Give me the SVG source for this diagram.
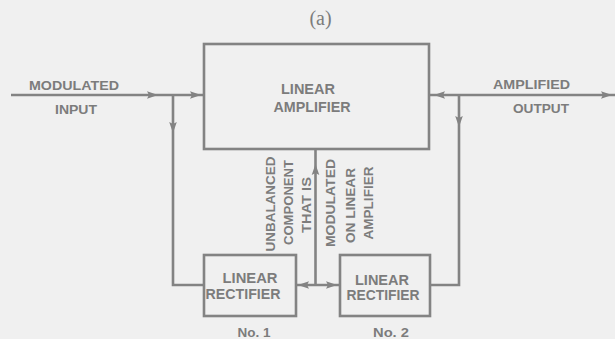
<svg xmlns="http://www.w3.org/2000/svg" width="615" height="339" viewBox="0 0 615 339">
<defs>
<style>
.ln{fill:none;stroke:#838383;stroke-width:2.6}
.bx{fill:none;stroke:#838383;stroke-width:2.6}
.t{font-family:"Liberation Sans",Arial,sans-serif;font-weight:bold;font-size:13px;fill:#7c7c7c;text-anchor:middle}
.big{font-size:14px}
.ttl{font-family:"Liberation Serif","Times New Roman",serif;font-size:20px;fill:#7c7c7c;text-anchor:middle}
</style>
<path id="ah" d="M0,0 L-11,-3.8 L-9,0 L-11,3.8 Z" fill="#838383"/>
</defs>
<rect width="615" height="339" fill="#f0f0f0"/>
<text class="ttl" x="320.5" y="25">(a)</text>
<g id="connectors">
<path class="ln" d="M11,95 H203"/>
<path class="ln" d="M173,95 V285 H204"/>
<path class="ln" d="M429,95 H615"/>
<path class="ln" d="M459,95 V285 H430"/>
<path class="ln" d="M296,285 H340"/>
<path class="ln" d="M315.5,149 V285"/>
<use href="#ah" transform="translate(158,95)"/>
<use href="#ah" transform="translate(201,95)"/>
<use href="#ah" transform="translate(173,133) rotate(90)"/>
<use href="#ah" transform="translate(434,95) rotate(180)"/>
<use href="#ah" transform="translate(612,95)"/>
<use href="#ah" transform="translate(459,127) rotate(90)"/>
<use href="#ah" transform="translate(315.5,164) rotate(-90)"/>
<use href="#ah" transform="translate(298,285) rotate(180)"/>
<use href="#ah" transform="translate(337,285)"/>
</g>
<g id="labels">
<text class="t" x="74" y="90" textLength="90" lengthAdjust="spacingAndGlyphs">MODULATED</text>
<text class="t" x="76" y="114" textLength="42" lengthAdjust="spacingAndGlyphs">INPUT</text>
<text class="t" x="531.5" y="89" textLength="77" lengthAdjust="spacingAndGlyphs">AMPLIFIED</text>
<text class="t" x="541" y="113" textLength="56" lengthAdjust="spacingAndGlyphs">OUTPUT</text>
<text class="t" transform="translate(275,204) rotate(-90)" textLength="95" lengthAdjust="spacingAndGlyphs">UNBALANCED</text>
<text class="t" transform="translate(292.7,202.5) rotate(-90)" textLength="85" lengthAdjust="spacingAndGlyphs">COMPONENT</text>
<text class="t" transform="translate(310.7,205) rotate(-90)" textLength="56" lengthAdjust="spacingAndGlyphs">THAT IS</text>
<text class="t" transform="translate(335.3,203) rotate(-90)" textLength="88" lengthAdjust="spacingAndGlyphs">MODULATED</text>
<text class="t" transform="translate(355,205.5) rotate(-90)" textLength="75" lengthAdjust="spacingAndGlyphs">ON LINEAR</text>
<text class="t" transform="translate(373.3,203) rotate(-90)" textLength="73" lengthAdjust="spacingAndGlyphs">AMPLIFIER</text>
<text class="t" x="254" y="336.5" textLength="33" lengthAdjust="spacingAndGlyphs">No. 1</text>
<text class="t" x="391" y="336.5" textLength="36" lengthAdjust="spacingAndGlyphs">No. 2</text>
</g>
<g id="linear-amplifier">
<rect class="bx" x="204" y="44" width="225" height="105"/>
<text class="t big" x="308" y="93.5" textLength="54" lengthAdjust="spacingAndGlyphs">LINEAR</text>
<text class="t big" x="312" y="111.5" textLength="77" lengthAdjust="spacingAndGlyphs">AMPLIFIER</text>
</g>
<g id="rectifier-1">
<rect class="bx" x="204" y="255" width="92" height="61"/>
<text class="t big" x="250" y="283.3" textLength="55" lengthAdjust="spacingAndGlyphs">LINEAR</text>
<text class="t big" x="243" y="299" textLength="75" lengthAdjust="spacingAndGlyphs">RECTIFIER</text>
</g>
<g id="rectifier-2">
<rect class="bx" x="340" y="255" width="90" height="61"/>
<text class="t big" x="382" y="285" textLength="54" lengthAdjust="spacingAndGlyphs">LINEAR</text>
<text class="t big" x="383" y="300" textLength="73" lengthAdjust="spacingAndGlyphs">RECTIFIER</text>
</g>
</svg>
